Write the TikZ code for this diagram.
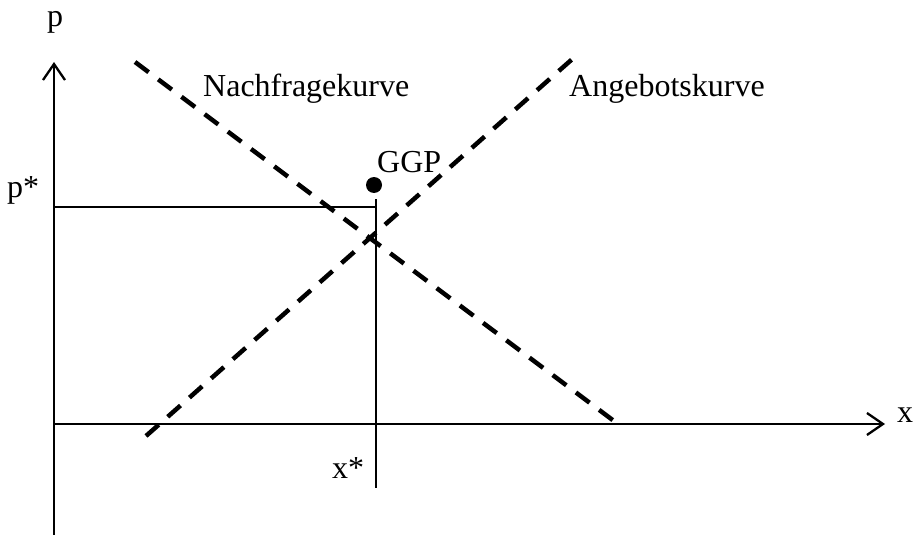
\documentclass[tikz,border=0pt]{standalone}
\usepackage{fontspec}
\setmainfont{Liberation Serif}
\usetikzlibrary{arrows.meta}

\begin{document}
\begin{tikzpicture}[x=1pt,y=-1pt,
  achse/.style={line width=2.3pt,-{Straight Barb[length=16pt,width=22pt]}},
  kurve/.style={line width=4.5pt,dash pattern=on 17pt off 12pt},
  hilfslinie/.style={line width=1.1pt},
  lbl/.style={font=\fontsize{32}{38}\selectfont,inner sep=0pt}]
\useasboundingbox (0,0) rectangle (914,535);

% Achsen
\coordinate (yfuss) at (54,535);
\coordinate (ykopf) at (54,62);
\coordinate (xfuss) at (54,424);
\coordinate (xkopf) at (885,424);
\draw[achse] (yfuss)--(ykopf);
\draw[achse] (xfuss)--(xkopf);

% Kurven
\coordinate (nA) at (135,62);
\coordinate (nE) at (618,424);
\coordinate (aA) at (146,436);
\coordinate (aE) at (578,54);
\draw[kurve] (nA)--(nE);
\draw[kurve] (aA)--(aE);

% Gleichgewicht
\coordinate (pStern) at (54,207);
\coordinate (ecke) at (376,207);
\coordinate (xoben) at (376,199);
\coordinate (xunten) at (376,488);
\draw[hilfslinie] (pStern)--(ecke);
\draw[hilfslinie] (xoben)--(xunten);
\fill (374,185) circle (8pt);

% Beschriftungen
\node[lbl,anchor=base] (p) at (55,27) {p};
\node[lbl,anchor=base] (ps) at (23,197) {p*};
\node[lbl,anchor=base] (x) at (905,422) {x};
\node[lbl,anchor=base] (xs) at (348,478) {x*};
\node[lbl,anchor=base west] (ggp) at (377,172) {GGP};
\node[lbl,anchor=base west] (nach) at (203,97) {Nachfragekurve};
\node[lbl,anchor=base west] (ang) at (569,97) {Angebotskurve};
\end{tikzpicture}
\end{document}
